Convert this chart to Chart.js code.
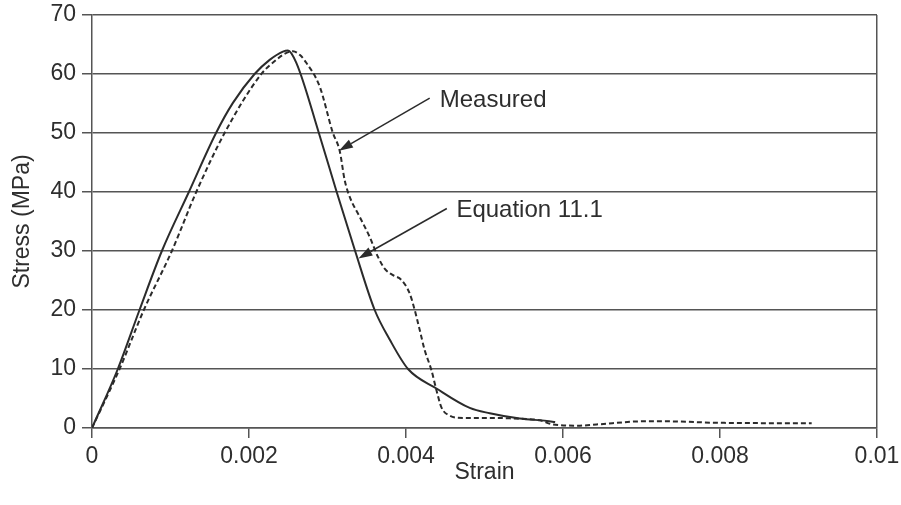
<!DOCTYPE html>
<html>
<head>
<meta charset="utf-8">
<title>Stress-strain</title>
<script src="https://cdn.jsdelivr.net/npm/chart.js@4/dist/chart.umd.min.js"></script>
<style>
  html, body { margin: 0; padding: 0; background: #fff; }
  #chart { display: block; }
</style>
</head>
<body>
<canvas id="chart" width="901" height="505"></canvas>
<script>
// Equation 11.1 curve
const eqStrain = [0, 0.000329, 0.000605, 0.000890, 0.001234, 0.001580, 0.001795, 0.002071, 0.002263, 0.002432,
  0.002496, 0.002603, 0.002890, 0.003117, 0.003352, 0.003601, 0.003792, 0.004026, 0.004388,
  0.004812, 0.005067, 0.005450, 0.005794, 0.005900]
const eqStress = [0, 10, 20, 30, 40, 50, 55.1, 60, 62.4, 63.8,
  64.0, 61.9, 50, 40, 30, 20, 15.0, 10, 6.7,
  3.4, 2.5, 1.6, 1.2, 1.0]

// measured curve
const measStrain = [0, 0.000351, 0.000660, 0.001017, 0.001328, 0.001689, 0.002157, 0.002348, 0.002450, 0.002560,
  0.002650, 0.002730, 0.002900, 0.003069, 0.003155, 0.003219, 0.003282, 0.003410, 0.003537, 0.003643,
  0.003728, 0.003834, 0.003941, 0.004047, 0.004111, 0.004175, 0.004238, 0.004324, 0.004388, 0.004451,
  0.004557, 0.004727, 0.005194, 0.005360, 0.005704, 0.005870, 0.006214, 0.006427, 0.007064, 0.007489,
  0.007909, 0.009168]
const measStress = [0, 10, 20, 30, 40, 50, 60, 62.4, 63.4, 63.85,
  63.2, 61.9, 57.9, 50, 47, 42, 39.2, 35.8, 32.4, 29.0,
  27.0, 25.9, 25.1, 22.8, 20.0, 16.6, 13.2, 9.8, 6.4, 3.5,
  2.1, 1.7, 1.7, 1.6, 1.3, 0.6, 0.4, 0.6, 1.15, 1.1,
  0.9, 0.8]

// axis ticks
const strainTicks = [0, 0.002, 0.004, 0.006, 0.008, 0.01]
const stressTicks = [0, 10, 20, 30, 40, 50, 60, 70]

// callout labels: text at (x, y), arrow from tail to tip, all in data units
const callouts = [
  { text: 'Measured', x: 0.004430, y: 54.4, tail: [0.004302, 55.9], tip: [0.003146, 47.0] },
  { text: 'Equation 11.1', x: 0.004642, y: 35.8, tail: [0.004520, 37.2], tip: [0.003394, 28.75] }
]

const ink = '#2e2e2e'
const gridColor = '#555'
const fontFamily = '"Liberation Sans", Arial, Helvetica, sans-serif'

const toPoints = (xs, ys) => xs.map((x, i) => ({ x: x, y: ys[i] }))

const calloutPlugin = {
  id: 'callouts',
  afterDatasetsDraw(chart) {
    const { ctx, scales: { x, y } } = chart
    ctx.save()
    ctx.lineWidth = 1.5
    callouts.forEach(c => {
      const x1 = x.getPixelForValue(c.tail[0]), y1 = y.getPixelForValue(c.tail[1])
      const x2 = x.getPixelForValue(c.tip[0]), y2 = y.getPixelForValue(c.tip[1])
      const ang = Math.atan2(y2 - y1, x2 - x1)
      const len = 14, half = 4.5
      const bx = x2 - len * Math.cos(ang), by = y2 - len * Math.sin(ang)
      ctx.strokeStyle = '#2b2b2b'
      ctx.fillStyle = '#2b2b2b'
      ctx.beginPath()
      ctx.moveTo(x1, y1)
      ctx.lineTo(bx, by)
      ctx.stroke()
      ctx.beginPath()
      ctx.moveTo(x2, y2)
      ctx.lineTo(bx + half * Math.sin(ang), by - half * Math.cos(ang))
      ctx.lineTo(bx - half * Math.sin(ang), by + half * Math.cos(ang))
      ctx.closePath()
      ctx.fill()

      ctx.font = '24px ' + fontFamily
      ctx.fillStyle = ink
      ctx.textAlign = 'left'
      ctx.textBaseline = 'alphabetic'
      ctx.fillText(c.text, x.getPixelForValue(c.x), y.getPixelForValue(c.y))
    })
    ctx.restore()
  }
}

new Chart(document.getElementById('chart'), {
  type: 'scatter',
  data: {
    datasets: [{
      label: 'Equation 11.1',
      data: toPoints(eqStrain, eqStress),
      showLine: true,
      borderColor: '#2b2b2b',
      borderWidth: 2,
      pointRadius: 0,
      cubicInterpolationMode: 'monotone'
    }, {
      label: 'Measured',
      data: toPoints(measStrain, measStress),
      showLine: true,
      borderColor: '#2b2b2b',
      borderWidth: 2,
      borderDash: [5, 3],
      pointRadius: 0,
      cubicInterpolationMode: 'monotone'
    }]
  },
  options: {
    responsive: false,
    animation: false,
    layout: { padding: { left: 0, right: 24, top: 15, bottom: 0 } },
    plugins: {
      legend: { display: false },
      tooltip: { enabled: false }
    },
    scales: {
      x: {
        type: 'linear',
        min: 0,
        max: 0.01,
        afterBuildTicks: scale => { scale.ticks = strainTicks.map(v => ({ value: v })) },
        afterFit: scale => {
          scale.height = 77
          scale.paddingLeft = 0
          scale.paddingRight = 0
        },
        border: { display: true, color: gridColor, width: 1.5 },
        grid: {
          // only the right edge gets a vertical line
          color: c => (c.tick && c.tick.value >= 0.01 ? gridColor : 'rgba(0,0,0,0)'),
          tickColor: gridColor,
          lineWidth: 1.5,
          tickLength: 10
        },
        ticks: {
          color: ink,
          padding: 5,
          maxRotation: 0,
          font: { family: fontFamily, size: 23 },
          callback: v => (v === 0 ? '0' : String(parseFloat(v.toFixed(4))))
        },
        title: {
          display: true,
          text: 'Strain',
          color: ink,
          font: { family: fontFamily, size: 23 },
          padding: { top: 0, bottom: 19 }
        }
      },
      y: {
        min: 0,
        max: 70,
        afterBuildTicks: scale => { scale.ticks = stressTicks.map(v => ({ value: v })) },
        afterFit: scale => {
          scale.width = 92
          scale.paddingTop = 0
          scale.paddingBottom = 0
        },
        border: { display: true, color: gridColor, width: 1.5 },
        grid: {
          color: gridColor,
          lineWidth: 1.5,
          tickLength: 10
        },
        ticks: {
          color: ink,
          padding: 6,
          font: { family: fontFamily, size: 23 }
        },
        title: {
          display: true,
          text: 'Stress (MPa)',
          color: ink,
          font: { family: fontFamily, size: 23 },
          padding: { top: 9, bottom: 0 }
        }
      }
    }
  },
  plugins: [calloutPlugin]
})
</script>
</body>
</html>
